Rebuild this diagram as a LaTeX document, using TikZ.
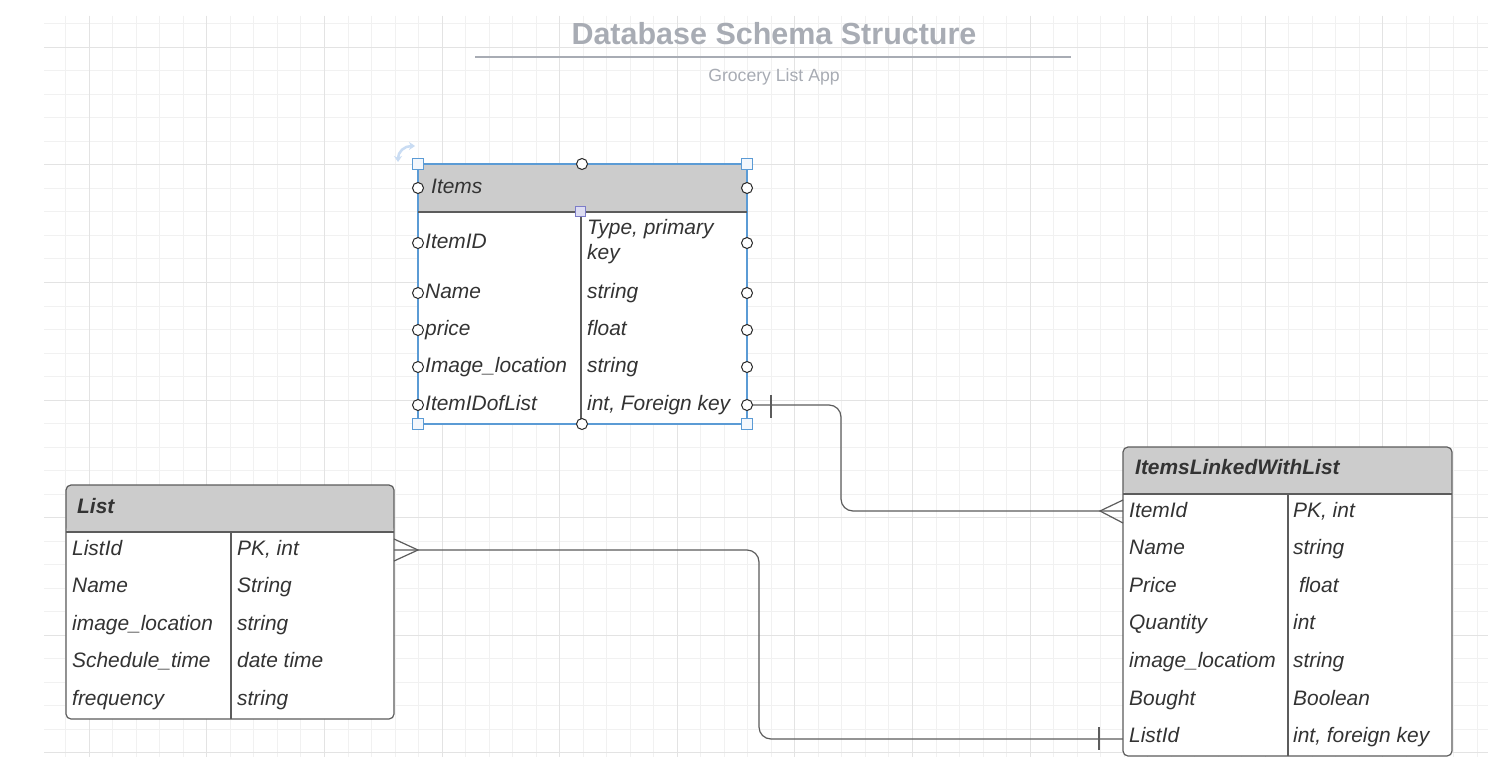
\documentclass[tikz,border=0pt]{standalone}
\usepackage{fontspec}
\setmainfont{Liberation Sans}
\usetikzlibrary{arrows.meta}
\definecolor{gridminor}{HTML}{F1F1F1}
\definecolor{gridmajor}{HTML}{E3E3E3}
\definecolor{txt}{HTML}{333333}
\definecolor{hdr}{HTML}{CCCCCC}
\definecolor{bord}{HTML}{5C5C5C}
\definecolor{titlec}{HTML}{A8ACB4}
\definecolor{selb}{HTML}{5B9BD5}
\definecolor{rotc}{HTML}{C9DCF3}
\definecolor{hand}{HTML}{F3F7FC}
\definecolor{purp}{HTML}{7C7CC8}
\definecolor{purpf}{HTML}{DDDDF2}
\begin{document}
\begin{tikzpicture}[x=1bp,y=-1bp,
  cell/.style={anchor=base west, inner sep=0pt, text=txt, font=\fontsize{21}{25}\selectfont\itshape},
  head/.style={cell, font=\fontsize{21}{25}\selectfont\bfseries\itshape},
  table/.style={draw=bord, line width=1.2bp, fill=white, rounded corners=5bp, inner sep=0pt, outer sep=0pt, anchor=north west,
    path picture={\fill[hdr] (path picture bounding box.north west) rectangle ([yshift=-47bp]path picture bounding box.north east);}},
  rule/.style={draw=bord, line width=1.2bp},
  conn/.style={draw=bord, line width=1.2bp, rounded corners=12bp},
  port/.style={draw=black!85, fill=white, line width=1bp},
  handle/.style={draw=selb, fill=hand, line width=1bp},
]
\useasboundingbox (0,0) rectangle (1488,766);
\fill[white] (0,0) rectangle (1488,766);
% grid
\begin{scope}
\clip (44,16) rectangle (1488,757);
\foreach \i in {0,...,62} \draw[gridminor, line width=1bp] ({42.26+23.52*\i},16) -- ({42.26+23.52*\i},757);
\foreach \j in {-1,...,30} \draw[gridminor, line width=1bp] (44,{47.3+23.52*\j}) -- (1488,{47.3+23.52*\j});
\foreach \i in {-1,...,12} \draw[gridmajor, line width=1bp] ({89.3+117.6*\i},16) -- ({89.3+117.6*\i},757);
\foreach \j in {0,...,6} \draw[gridmajor, line width=1bp] (44,{47.3+117.6*\j}) -- (1488,{47.3+117.6*\j});
\end{scope}

% title
\node[anchor=base, inner sep=0pt, text=titlec, font=\fontsize{30.6}{36}\selectfont\bfseries] (title) at (774,45) {Database Schema Structure};
\draw[titlec, line width=2.5bp] (475,57) -- (1071,57);
\node[anchor=base, inner sep=0pt, text=titlec, font=\fontsize{17.7}{21}\selectfont] (subtitle) at (774,81) {Grocery List App};

% connectors
\draw[conn] (747,405) -- (841,405) -- (841,511) -- (1123,511);
\draw[conn] (394,550) -- (759,550) -- (759,739) -- (1123,739);

% tables
\node[table, minimum width=328bp, minimum height=234bp] (list) at (66,485) {};
\node[table, minimum width=329bp, minimum height=309bp] (ilwl) at (1123,447) {};
\node[table, sharp corners, draw=selb, line width=1.5bp, minimum width=329bp, minimum height=260bp] (items) at (418,164) {};

\draw[rule] (418,212) -- (747,212);
\draw[rule] (581,212) -- (581,424);
\draw[rule] (66,532) -- (394,532);
\draw[rule] (231,532) -- (231,719);
\draw[rule] (1123,494) -- (1452,494);
\draw[rule] (1288,494) -- (1288,756);

% end markers
\draw[rule] (771,395) -- (771,418);
\draw[rule] (ilwl.west |- 0,500) -- (1100,511) -- (ilwl.west |- 0,523);
\draw[rule] (list.east |- 0,539) -- (418,550) -- (list.east |- 0,561);
\draw[rule] (1099,727) -- (1099,750);

% Items texts
\node[cell] (itemsT) at (431,193) {Items};
\node[cell] (iA) at (425,248) {ItemID};
\node[cell] (iAt) at (587,234) {Type, primary};
\node[cell] (iAt2) at (587,259) {key};
\node[cell] (iB) at (425,298) {Name};
\node[cell] (iBt) at (587,298) {string};
\node[cell] (iC) at (425,335) {price};
\node[cell] (iCt) at (587,335) {float};
\node[cell] (iD) at (425,372) {Image\_location};
\node[cell] (iDt) at (587,372) {string};
\node[cell] (iE) at (425,410) {ItemIDofList};
\node[cell] (iEt) at (587,410) {int, Foreign key};

% List texts
\node[head] (listT) at (77,513) {List};
\node[cell] (lA) at (72,555) {ListId};
\node[cell] (lAt) at (237,555) {PK, int};
\node[cell] (lB) at (72,592) {Name};
\node[cell] (lBt) at (237,592) {String};
\node[cell] (lC) at (72,630) {image\_location};
\node[cell] (lCt) at (237,630) {string};
\node[cell] (lD) at (72,667) {Schedule\_time};
\node[cell] (lDt) at (237,667) {date time};
\node[cell] (lE) at (72,705) {frequency};
\node[cell] (lEt) at (237,705) {string};

% ItemsLinkedWithList texts
\node[head] (ilwlT) at (1135,474) {ItemsLinkedWithList};
\node[cell] (wA) at (1129,517) {ItemId};
\node[cell] (wAt) at (1293,517) {PK, int};
\node[cell] (wB) at (1129,554) {Name};
\node[cell] (wBt) at (1293,554) {string};
\node[cell] (wC) at (1129,592) {Price};
\node[cell] (wCt) at (1293,592) {\ float};
\node[cell] (wD) at (1129,629) {Quantity};
\node[cell] (wDt) at (1293,629) {int};
\node[cell] (wE) at (1129,667) {image\_locatiom};
\node[cell] (wEt) at (1293,667) {string};
\node[cell] (wF) at (1129,705) {Bought};
\node[cell] (wFt) at (1293,705) {Boolean};
\node[cell] (wG) at (1129,742) {ListId};
\node[cell] (wGt) at (1293,742) {int, foreign key};

% selection decorations on Items
\foreach \yy in {188,243,293,330,367,405} {
  \draw[port] (418,\yy) circle (5.5bp);
  \draw[port] (747,\yy) circle (5.5bp);
}
\draw[port] (582,164) circle (5.5bp);
\draw[port] (582,424) circle (5.5bp);
\foreach \xx/\yy in {418/164,747/164,418/424,747/424}
  \draw[handle] (\xx-5.5,\yy-5.5) rectangle (\xx+5.5,\yy+5.5);
\draw[draw=purp, fill=purpf, line width=1bp] (575,206) rectangle (585,216);
\draw[rotc, line width=2.5bp, {Stealth[length=6bp,width=8bp]}-{Stealth[length=6bp,width=8bp]}] (398,162) .. controls (398,152) and (404,146) .. (415,146);
\end{tikzpicture}
\end{document}
